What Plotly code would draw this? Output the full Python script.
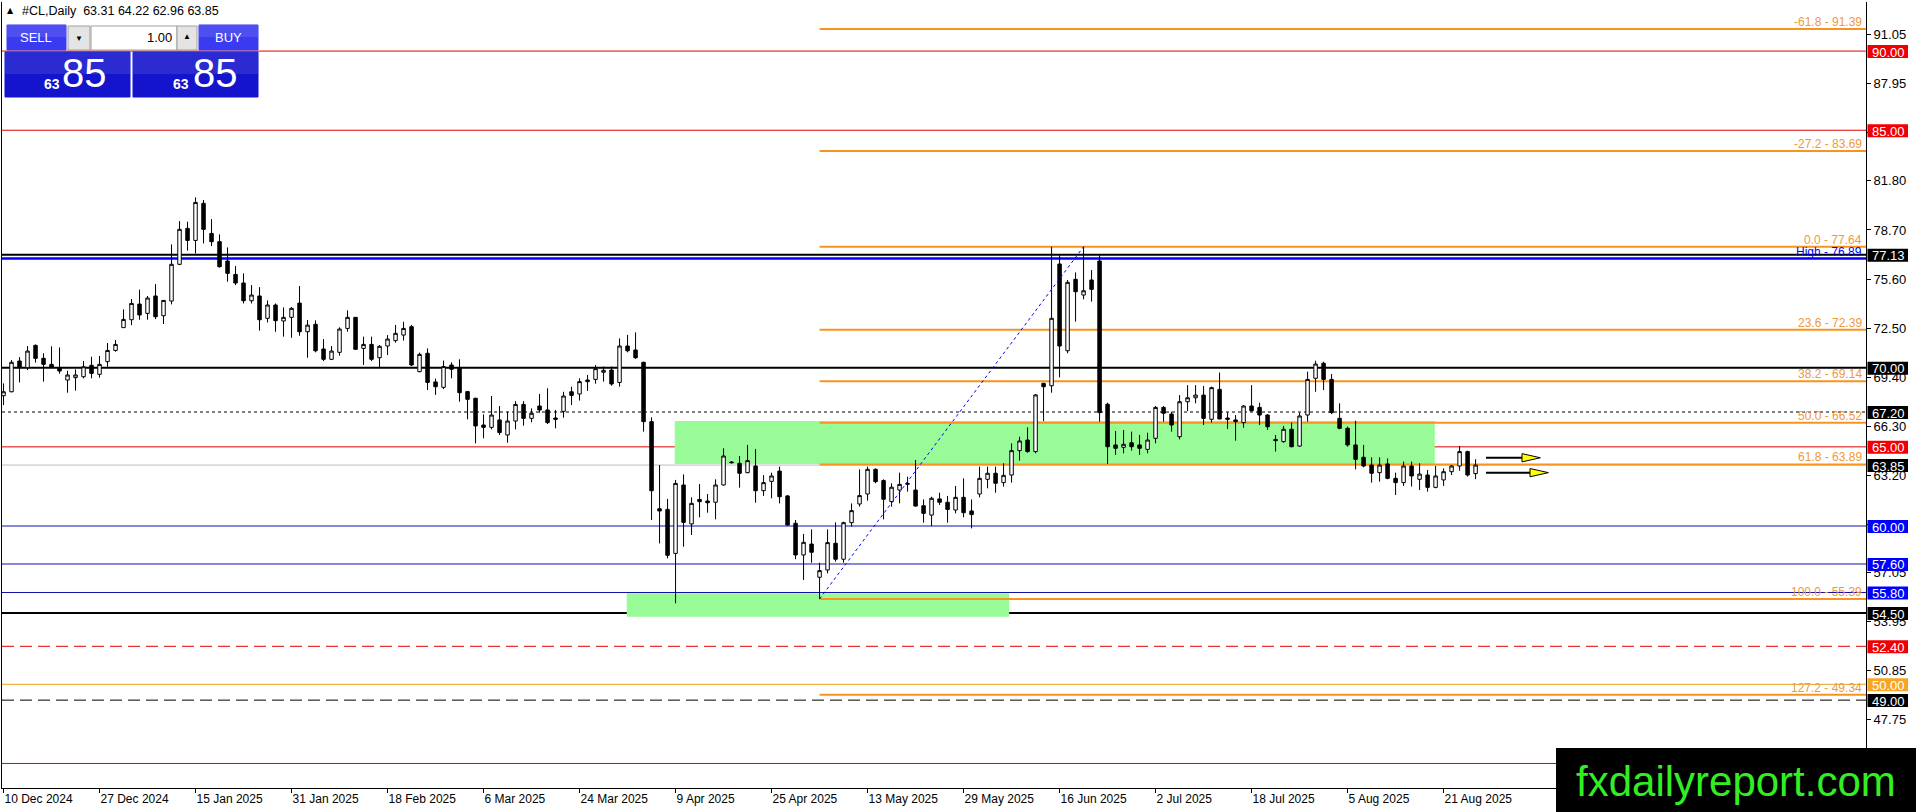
import plotly.graph_objects as go

# daily bars, index 0 = 10 Dec 2024
opens = [68.23, 68.48, 70.42, 70.00, 71.41, 70.59, 70.21, 70.00, 69.22, 69.37,
         69.43, 70.15, 69.58, 70.38, 71.09, 72.53, 73.03, 74.02, 73.43, 74.53,
         73.28, 74.21, 76.53, 78.80, 78.04, 80.38, 78.48, 77.96, 76.74, 75.89,
         75.35, 74.23, 74.53, 73.12, 73.96, 72.95, 73.18, 74.08, 72.27, 72.74,
         71.18, 70.53, 70.97, 72.48, 73.18, 71.22, 71.47, 70.63, 71.37, 71.71,
         72.06, 72.59, 69.75, 70.91, 69.10, 68.76, 70.17, 69.96, 68.49, 68.07,
         66.38, 66.23, 66.70, 65.75, 66.63, 67.68, 66.80, 67.58, 67.33, 66.82,
         67.24, 68.48, 68.34, 69.22, 69.26, 69.71, 69.85, 69.07, 71.37, 71.12,
         70.34, 66.59, 61.09, 61.05, 58.27, 62.59, 60.13, 61.68, 61.58, 61.50,
         62.59, 64.04, 63.96, 63.37, 63.79, 62.23, 62.82, 63.47, 61.90, 60.17,
         58.17, 58.86, 56.76, 57.22, 58.91, 57.90, 60.21, 61.39, 62.02, 63.58,
         62.87, 61.54, 62.27, 62.63, 62.27, 61.28, 60.69, 61.71, 61.50, 61.01,
         61.81, 60.95, 62.02, 62.95, 63.33, 62.74, 63.22, 64.76, 65.43, 64.70,
         69.01, 68.86, 76.55, 71.07, 75.58, 74.59, 75.54, 76.74, 67.69, 65.12,
         64.97, 65.26, 65.12, 64.84, 65.54, 67.49, 67.07, 65.64, 67.85, 68.10,
         68.27, 66.74, 68.63, 66.82, 66.70, 66.53, 67.58, 67.49, 67.01, 65.47,
         65.33, 66.11, 65.05, 67.01, 69.33, 70.28, 69.26, 66.80, 66.17, 65.12,
         64.34, 63.85, 63.37, 63.92, 63.01, 62.74, 63.79, 62.95, 63.22, 62.44,
         62.91, 63.43, 63.79, 64.70, 63.31]
highs = [69.01, 70.48, 70.67, 71.37, 71.47, 70.91, 71.35, 71.28, 69.81, 69.89,
         70.42, 70.69, 70.74, 71.56, 71.75, 73.68, 74.34, 74.93, 74.53, 75.28,
         74.27, 77.79, 79.26, 79.22, 80.76, 80.59, 79.39, 78.42, 77.60, 76.42,
         75.96, 75.22, 75.09, 74.25, 74.06, 73.81, 73.83, 75.16, 73.01, 72.99,
         71.81, 71.37, 72.55, 73.62, 73.20, 71.96, 71.96, 71.43, 72.06, 72.70,
         72.90, 72.70, 70.95, 71.22, 69.31, 70.45, 70.34, 70.53, 68.53, 68.10,
         67.05, 68.21, 67.58, 67.22, 67.89, 67.89, 67.43, 68.34, 68.70, 67.33,
         68.48, 68.80, 69.33, 69.54, 70.17, 70.07, 70.07, 71.85, 72.07, 72.23,
         70.38, 66.86, 63.85, 61.71, 62.91, 63.26, 61.81, 62.65, 62.02, 62.95,
         64.91, 64.10, 64.42, 65.12, 64.86, 63.22, 63.37, 63.75, 61.96, 60.38,
         59.50, 59.79, 57.68, 59.79, 60.23, 60.27, 61.43, 63.58, 63.75, 63.64,
         62.95, 62.70, 63.37, 63.12, 64.17, 61.68, 61.85, 62.10, 61.90, 62.53,
         63.01, 61.68, 63.75, 63.75, 63.75, 63.96, 65.22, 65.64, 66.23, 68.34,
         69.05, 77.64, 77.12, 75.54, 76.02, 77.64, 76.17, 77.12, 67.79, 66.00,
         66.06, 65.96, 65.75, 65.89, 67.58, 67.58, 67.22, 68.27, 68.90, 68.90,
         68.84, 68.80, 69.69, 67.18, 67.01, 67.64, 68.90, 67.79, 67.07, 65.75,
         66.32, 66.53, 67.16, 69.75, 70.44, 70.38, 69.60, 67.75, 66.28, 66.65,
         65.12, 64.34, 64.34, 64.27, 63.37, 64.07, 64.07, 63.96, 63.54, 63.79,
         63.64, 63.85, 65.05, 64.76, 64.22]
lows = [67.64, 68.44, 69.07, 69.85, 70.32, 69.12, 70.00, 69.62, 68.42, 68.55,
        69.33, 69.33, 69.37, 70.06, 71.01, 72.53, 72.69, 73.03, 73.03, 73.07,
        72.76, 74.00, 76.48, 77.39, 77.22, 77.85, 77.68, 76.32, 75.43, 75.22,
        74.06, 74.06, 72.34, 72.86, 72.27, 71.96, 71.89, 72.02, 70.63, 70.97,
        70.42, 70.48, 70.76, 72.27, 71.14, 70.17, 70.42, 70.00, 70.80, 71.58,
        71.71, 70.10, 69.71, 68.59, 68.28, 68.65, 69.33, 67.85, 66.74, 65.22,
        65.54, 66.10, 65.75, 65.26, 66.10, 66.34, 66.55, 67.16, 66.44, 66.17,
        66.84, 67.64, 67.92, 68.53, 68.99, 69.12, 68.86, 68.80, 70.97, 70.55,
        65.96, 60.38, 58.90, 57.96, 55.12, 58.69, 59.43, 60.55, 60.84, 60.42,
        62.55, 63.96, 62.42, 63.33, 61.47, 61.90, 61.75, 61.43, 60.05, 57.90,
        56.59, 57.68, 55.39, 57.01, 57.75, 57.68, 59.96, 61.22, 61.60, 62.70,
        60.42, 61.22, 61.43, 62.17, 61.22, 60.21, 60.00, 61.33, 60.21, 60.80,
        60.55, 59.85, 61.81, 62.38, 62.10, 62.49, 62.74, 64.13, 64.63, 64.59,
        66.63, 68.42, 69.39, 70.91, 72.91, 74.32, 74.17, 66.59, 63.92, 64.49,
        64.59, 64.76, 64.49, 64.59, 65.22, 66.59, 65.96, 65.47, 67.26, 67.75,
        66.38, 66.53, 66.74, 66.13, 65.39, 66.21, 67.22, 66.38, 66.07, 64.70,
        65.26, 64.97, 65.01, 66.59, 68.48, 68.59, 67.07, 66.11, 65.01, 63.58,
        63.71, 62.74, 62.80, 62.95, 61.96, 62.53, 62.49, 62.27, 62.17, 62.38,
        62.53, 63.22, 63.49, 63.12, 62.96]
closes = [68.48, 70.34, 70.00, 71.05, 70.59, 70.21, 70.04, 69.79, 69.54, 69.54,
          70.06, 69.64, 70.21, 71.09, 71.47, 73.05, 74.06, 73.33, 74.40, 73.22,
          74.25, 76.53, 78.74, 78.04, 80.44, 78.74, 77.96, 76.38, 75.96, 75.35,
          74.23, 74.59, 73.03, 73.96, 72.97, 73.18, 73.75, 72.27, 72.69, 71.07,
          70.53, 71.05, 72.44, 73.18, 71.16, 71.47, 70.53, 71.35, 71.81, 72.17,
          72.48, 70.17, 70.84, 69.07, 68.80, 70.07, 69.90, 68.42, 68.00, 66.32,
          66.23, 67.01, 65.90, 66.63, 67.68, 66.80, 67.12, 67.33, 66.53, 66.74,
          68.21, 68.25, 69.12, 69.12, 69.94, 69.83, 68.97, 71.37, 71.07, 70.63,
          66.59, 62.23, 60.95, 58.15, 62.69, 60.23, 61.43, 61.54, 61.47, 62.59,
          64.42, 64.00, 63.33, 64.13, 62.23, 62.74, 63.16, 61.85, 60.06, 58.17,
          58.97, 58.34, 57.18, 58.95, 57.90, 60.21, 60.97, 61.92, 63.58, 62.80,
          61.69, 62.45, 62.63, 62.69, 61.26, 60.80, 61.75, 61.50, 61.05, 61.81,
          60.84, 60.72, 63.01, 63.33, 62.70, 63.20, 64.76, 65.37, 64.70, 68.28,
          68.80, 73.12, 71.37, 75.39, 74.80, 74.86, 74.95, 67.16, 65.01, 64.91,
          65.16, 65.01, 64.91, 65.43, 67.49, 67.12, 66.38, 67.85, 68.10, 68.27,
          66.80, 68.74, 66.76, 66.74, 66.59, 67.58, 67.28, 67.01, 66.27, 65.39,
          66.11, 65.01, 66.95, 69.26, 70.23, 69.26, 67.16, 66.17, 65.12, 64.21,
          63.79, 63.33, 63.85, 63.01, 62.74, 63.79, 63.16, 63.28, 62.44, 63.16,
          63.43, 63.79, 64.70, 63.22, 63.85]
bars = list(range(len(opens)))

tick_bars = list(range(0, 181, 12))
tick_dates = ["10 Dec 2024", "27 Dec 2024", "15 Jan 2025", "31 Jan 2025", "18 Feb 2025",
              "6 Mar 2025", "24 Mar 2025", "9 Apr 2025", "25 Apr 2025", "13 May 2025",
              "29 May 2025", "16 Jun 2025", "2 Jul 2025", "18 Jul 2025", "5 Aug 2025",
              "21 Aug 2025"]
price_ticks = [91.05, 87.95, 84.85, 81.80, 78.70, 75.60, 72.50, 69.40, 66.30,
               63.20, 60.10, 57.05, 53.95, 50.85, 47.75]

# horizontal levels
level_prices = [90.00, 85.00, 77.13, 76.89, 70.00, 67.20, 65.00, 63.85, 60.00,
                57.60, 55.80, 54.50, 52.40, 50.00, 49.00, 45.00]
level_colors = ["#E00000", "#E00000", "black", "#0000FF", "black", "black", "#E00000",
                "#BDBDBD", "#1010A8", "#1010A8", "#1010A8", "black", "#E00000",
                "#E8A317", "black", "#E00000"]
level_widths = [1, 1, 2, 2.5, 2, 1, 1, 1, 1, 1, 1, 2, 1, 1, 1, 1]
level_dashes = ["solid", "solid", "solid", "solid", "solid", "3px,3px", "solid", "solid",
                "solid", "solid", "solid", "solid", "12px,6px", "solid", "12px,6px", "solid"]
label_colors = ["#F00000", "#F00000", "black", None, "black", "black", "#F00000", "black",
                "#0000FF", "#0000FF", "#0000FF", "black", "#F00000", "#F5A623", "black", None]

# fibonacci from the 5 May low to the June high
fib_ratios = ["-61.8", "-27.2", "0.0", "23.6", "38.2", "50.0", "61.8", "100.0", "127.2"]
fib_prices = [91.39, 83.69, 77.64, 72.39, 69.14, 66.52, 63.89, 55.39, 49.34]
fib_start = 102
trend_bars = [102, 135]
trend_prices = [55.39, 77.64]

# green zones
zone_start = [83.9, 77.9]
zone_end = [178.9, 125.7]
zone_low = [63.92, 54.27]
zone_high = [66.63, 55.75]

# arrows on the right
arrow_prices = [64.31, 63.37]
arrow_start = [185.3, 185.3]
arrow_head = [189.8, 190.8]
arrow_tip = [192.1, 193.1]

symbol = "#CL,Daily"
last_ohlc = [63.31, 64.22, 62.96, 63.85]

X_MAX = 232.8
Y_MIN, Y_MAX = 43.45, 93.10
FONT = "Liberation Sans, Arial, sans-serif"


def xp(px):
    return (px - 2) / 1864


def yp(py):
    return (788 - py) / 786


fig = go.Figure()

fig.add_trace(go.Candlestick(
    x=bars, open=opens, high=highs, low=lows, close=closes,
    increasing=dict(line=dict(color="black", width=1), fillcolor="white"),
    decreasing=dict(line=dict(color="black", width=1), fillcolor="black"),
    whiskerwidth=0, showlegend=False, hoverinfo="skip"))

fig.add_trace(go.Scatter(x=trend_bars, y=trend_prices, mode="lines",
                         line=dict(color="#0000FF", width=1, dash="dot"),
                         showlegend=False, hoverinfo="skip"))

for p, s, h, t in zip(arrow_prices, arrow_start, arrow_head, arrow_tip):
    fig.add_trace(go.Scatter(x=[s, h], y=[p, p], mode="lines",
                             line=dict(color="black", width=2),
                             showlegend=False, hoverinfo="skip"))
    fig.add_trace(go.Scatter(x=[h, t, h, h], y=[p + 0.26, p, p - 0.26, p + 0.26],
                             mode="lines", fill="toself", fillcolor="#FFFF00",
                             line=dict(color="black", width=1),
                             showlegend=False, hoverinfo="skip"))

shapes = []
for x0, x1, lo, hi in zip(zone_start, zone_end, zone_low, zone_high):
    shapes.append(dict(type="rect", xref="x", yref="y", x0=x0, x1=x1, y0=lo, y1=hi,
                       fillcolor="#98FB98", line=dict(width=0), layer="below"))
for p, c, w, d in zip(level_prices, level_colors, level_widths, level_dashes):
    shapes.append(dict(type="line", xref="paper", yref="y", x0=0, x1=1, y0=p, y1=p,
                       line=dict(color=c, width=w, dash=d), layer="below"))
for p in fib_prices:
    shapes.append(dict(type="line", xref="x", yref="y", x0=fib_start, x1=X_MAX, y0=p, y1=p,
                       line=dict(color="#F7941D", width=2), layer="below"))

annotations = []
# price labels on the right axis
for p, c in zip(level_prices, label_colors):
    if c is None:
        continue
    shapes.append(dict(type="rect", xref="paper", yref="y", x0=xp(1867.5), x1=xp(1908),
                       y0=p - 0.44, y1=p + 0.38, fillcolor=c, line=dict(width=0),
                       layer="above"))
    annotations.append(dict(x=xp(1870), y=p, xref="paper", yref="y", xanchor="left",
                            yanchor="middle", yshift=-1, text=f"{p:.2f}", showarrow=False,
                            font=dict(family=FONT, size=13, color="white")))

for r, p in zip(fib_ratios, fib_prices):
    annotations.append(dict(x=1, y=p, xref="paper", yref="y", xanchor="right",
                            yanchor="bottom", xshift=-2, yshift=-2, text=f"{r} - {p:.2f}",
                            showarrow=False,
                            font=dict(family=FONT, size=12, color="#EE9A3A")))
annotations.append(dict(x=1, y=level_prices[3], xref="paper", yref="y", xanchor="right",
                        yanchor="bottom", xshift=-2, yshift=-2,
                        text=f"High - {level_prices[3]:.2f}", showarrow=False,
                        font=dict(family=FONT, size=12, color="#0000FF")))

# header line
annotations.append(dict(x=xp(10), y=yp(11), xref="paper", yref="paper", text="▲",
                        xanchor="center", yanchor="middle", showarrow=False,
                        font=dict(family="DejaVu Sans", size=8, color="black")))
annotations.append(dict(x=xp(20), y=yp(11), xref="paper", yref="paper", xanchor="left",
                        yanchor="middle",
                        text=symbol + "  " + " ".join(f"{v:.2f}" for v in last_ohlc),
                        showarrow=False, font=dict(family=FONT, size=12.5, color="black")))

# one click trading panel
panel = [((7, 25, 66, 50), "#3A3AF0"), ((68, 26, 90, 50), "#E4E4E4"),
         ((91, 26, 177, 50), "white"), ((177, 26, 197, 50), "#E4E4E4"),
         ((199, 25, 258, 50), "#3A3AF0"), ((5, 52, 130, 97), "#1414CC"),
         ((133, 52, 258, 97), "#1414CC")]
for (a, b, c, d), col in panel:
    shapes.append(dict(type="rect", xref="paper", yref="paper", x0=xp(a), x1=xp(c),
                       y0=yp(d), y1=yp(b), fillcolor=col,
                       line=dict(color="#A0A0A0" if col in ("white", "#E4E4E4") else col, width=1),
                       layer="above"))
for (a, b, c, d) in [(7, 25, 66, 37), (199, 25, 258, 37), (5, 52, 130, 74), (133, 52, 258, 74)]:
    shapes.append(dict(type="rect", xref="paper", yref="paper", x0=xp(a), x1=xp(c),
                       y0=yp(d), y1=yp(b), fillcolor="rgba(255,255,255,0.10)",
                       line=dict(width=0), layer="above"))

bid = f"{last_ohlc[3]:.2f}"
big, small = bid.split(".")
panel_text = [(36, 38, "SELL", 13, "white", "center"), (79, 39, "▼", 8, "black", "center"),
              (174, 38, "1.00", 13, "black", "right"), (187, 37, "▲", 8, "black", "center"),
              (228, 38, "BUY", 13, "white", "center"),
              (52, 84, "<b>" + big + "</b>", 14, "white", "center"),
              (84, 73, small, 40, "white", "center"),
              (181, 84, "<b>" + big + "</b>", 14, "white", "center"),
              (215, 73, small, 40, "white", "center")]
for x, y, t, s, c, anc in panel_text:
    annotations.append(dict(x=xp(x), y=yp(y), xref="paper", yref="paper", xanchor=anc,
                            yanchor="middle", text=t, showarrow=False,
                            font=dict(family=FONT, size=s, color=c)))

# watermark
shapes.append(dict(type="rect", xref="paper", yref="paper", x0=xp(1556), x1=xp(1920),
                   y0=yp(816), y1=yp(748), fillcolor="black", line=dict(width=0),
                   layer="above"))
annotations.append(dict(x=xp(1736), y=yp(781), xref="paper", yref="paper",
                        xanchor="center", yanchor="middle",
                        text="fxdailyreport.com", showarrow=False,
                        font=dict(family="Liberation Sans, Arial", size=42, color="#33EE22")))

fig.update_layout(
    width=1916, height=812,
    margin=dict(l=2, r=50, t=2, b=24),
    paper_bgcolor="white", plot_bgcolor="white",
    boxgap=0.38,
    shapes=shapes, annotations=annotations,
    showlegend=False,
    font=dict(family=FONT, color="black"),
)
fig.update_xaxes(range=[-0.19, X_MAX], rangeslider_visible=False, showgrid=False,
                 zeroline=False, showline=True, linecolor="black", linewidth=1,
                 ticks="outside", ticklen=4, tickcolor="black",
                 tickvals=tick_bars, ticktext=tick_dates,
                 ticklabelposition="outside right", automargin=False,
                 tickfont=dict(family=FONT, size=12, color="black"))
fig.update_yaxes(range=[Y_MIN, Y_MAX], side="right", showgrid=False, zeroline=False,
                 showline=True, mirror=True, linecolor="black", linewidth=1,
                 ticks="outside", ticklen=4, tickcolor="black", automargin=False,
                 tickvals=price_ticks, ticktext=[f"{v:.2f}" for v in price_ticks],
                 tickfont=dict(family=FONT, size=13, color="black"))

fig.write_html("out.html", config={"displayModeBar": False},
               post_script="document.body.style.margin='0';")
